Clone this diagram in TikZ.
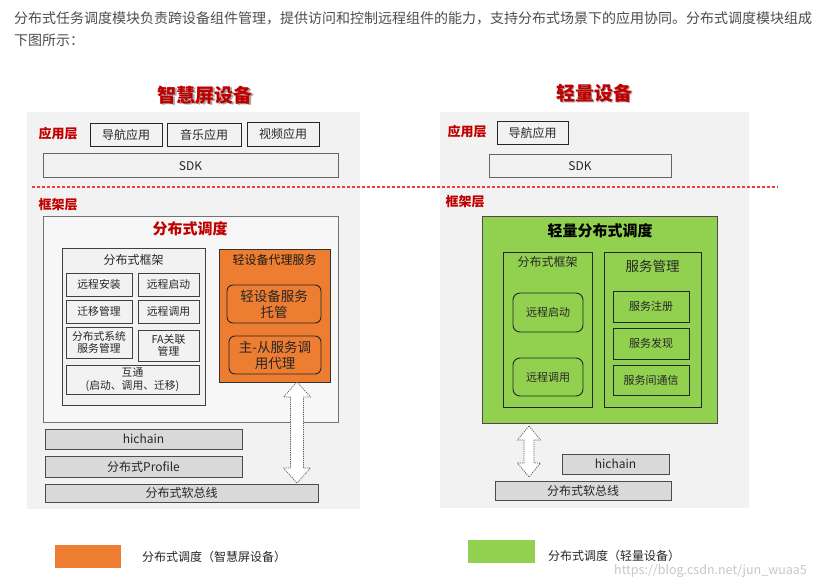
\documentclass[tikz,border=0pt]{standalone}
\usepackage{fontspec}
\setmainfont{Noto Sans CJK SC}
\definecolor{tred}{HTML}{C00000}
\definecolor{dred}{HTML}{F23C3C}
\definecolor{orng}{HTML}{ED7D31}
\definecolor{grn}{HTML}{92D050}
\definecolor{pane}{HTML}{F2F2F2}
\definecolor{bar}{HTML}{D9D9D9}
\definecolor{txt}{HTML}{4D4D4D}
\begin{document}
\begin{tikzpicture}[x=1pt,y=-1pt,
  panel/.style={fill=pane,draw=none,inner sep=0},
  layer/.style={text=tred,font=\fontsize{13}{15}\selectfont\bfseries},
  box/.style={draw=black!85,line width=0.9pt,inner sep=0,align=center,text=black!85},
  appbox/.style={box,fill=pane,font=\fontsize{12}{14}\selectfont},
  sdkbox/.style={box,fill=pane,draw=black!60,line width=1pt,font=\fontsize{12}{14}\selectfont},
  sub/.style={box,fill=pane,draw=black!75,font=\fontsize{10.8}{12.5}\selectfont},
  rbox/.style={box,rounded corners=6pt,font=\fontsize{13.5}{16}\selectfont},
  barbox/.style={box,fill=bar,draw=black!70,font=\fontsize{12}{14}\selectfont},
  dblarrow/.style={draw=black!65,dashed,dash pattern=on 1.2pt off 1pt,fill=white,line width=0.7pt}
]
\useasboundingbox[fill=white] (0,0) rectangle (820,588);

% intro text
\node[anchor=west,inner sep=0,text=txt,font=\fontsize{14}{17}\selectfont] (intro1) at (14,18) {分布式任务调度模块负责跨设备组件管理，提供访问和控制远程组件的能力，支持分布式场景下的应用协同。分布式调度模块组成};
\node[anchor=west,inner sep=0,text=txt,font=\fontsize{14}{17}\selectfont] (intro2) at (14,40) {下图所示：};

% panels
\node[panel,minimum width=333,minimum height=397] (lpanel) at (193.5,310.5) {};
\node[panel,minimum width=309,minimum height=396] (rpanel) at (594.5,310) {};

% titles with shadow
\node[text=black!35,font=\fontsize{19}{21}\selectfont\bfseries] at (206.5,96.5) {智慧屏设备};
\node[text=tred,font=\fontsize{19}{21}\selectfont\bfseries] (ltitle) at (205,95) {智慧屏设备};
\node[text=black!35,font=\fontsize{19}{21}\selectfont\bfseries] at (595.5,94.5) {轻量设备};
\node[text=tred,font=\fontsize{19}{21}\selectfont\bfseries] (rtitle) at (594,93) {轻量设备};

% layer labels
\node[layer] (lapp) at (58,134) {应用层};
\node[layer] (lfw) at (58,205) {框架层};
\node[layer] (rapp) at (467,132) {应用层};
\node[layer] (rfw) at (465,202) {框架层};

% app layer left
\node[appbox,minimum width=72,minimum height=23] (nav) at (126,134.5) {导航应用};
\node[appbox,minimum width=74,minimum height=23] (music) at (204,134.5) {音乐应用};
\node[appbox,minimum width=72,minimum height=24] (video) at (283,134) {视频应用};
\node[sdkbox,minimum width=295,minimum height=24] (lsdk) at (190.5,166) {SDK};
% app layer right
\node[appbox,minimum width=71,minimum height=23] (rnav) at (532.5,132.5) {导航应用};
\node[sdkbox,minimum width=182,minimum height=23] (rsdk) at (580,166.5) {SDK};

% dashed separator
\coordinate (dl) at (32,187);
\coordinate (dr) at (778,187);
\draw[dred,dash pattern=on 3pt off 2pt,line width=1.1pt] (dl) -- (dr);

% left scheduler
\node[box,fill=white!97!black,draw=black!55,line width=1pt,minimum width=295,minimum height=205] (lsched) at (190.5,319.5) {};
\node[text=tred,font=\fontsize{15}{17}\selectfont\bfseries] (lschedt) at (190,229) {分布式调度};
\node[box,fill=pane,draw=black!75,minimum width=143,minimum height=157] (lfwk) at (133.5,326.5) {};
\node[text=black!85,font=\fontsize{12}{14}\selectfont] (lfwkt) at (133.5,260) {分布式框架};
\node[sub,minimum width=66,minimum height=23] (az) at (99,284.5) {远程安装};
\node[sub,minimum width=61,minimum height=23] (qd) at (168.5,284.5) {远程启动};
\node[sub,minimum width=66,minimum height=23] (qy) at (99,311.5) {迁移管理};
\node[sub,minimum width=61,minimum height=23] (dy) at (168.5,311.5) {远程调用};
\node[sub,minimum width=66,minimum height=31] (xt) at (99,342.5) {分布式系统\\服务管理};
\node[sub,minimum width=61,minimum height=31] (fa) at (168.5,345.5) {FA关联\\管理};
\node[sub,minimum width=133,minimum height=29] (ht) at (132.5,379.5) {互通\\(启动、调用、迁移)};

\node[box,fill=orng,draw=black!80,minimum width=111,minimum height=133] (proxy) at (274.5,315.5) {};
\node[text=black!90,font=\fontsize{12}{14}\selectfont] (proxyt) at (274.5,260) {轻设备代理服务};
\node[rbox,fill=orng,minimum width=94,minimum height=38] (tg) at (274,304) {轻设备服务\\托管};
\node[rbox,fill=orng,minimum width=92,minimum height=38] (ms) at (275,355) {主-从服务调\\用代理};

\node[barbox,minimum width=197,minimum height=20] (lhc) at (143.5,439) {hichain};
\node[barbox,minimum width=197,minimum height=21] (prof) at (143.5,466.5) {分布式Profile};
\node[barbox,minimum width=273,minimum height=18] (lbus) at (181.5,493) {分布式软总线};

% left double arrow
\draw[dblarrow] (297,382) -- (310.5,397) -- (303.5,397) -- (303.5,468) -- (310.5,468) -- (297,483)
  -- (283.5,468) -- (290.5,468) -- (290.5,397) -- (283.5,397) -- cycle;

% right scheduler
\node[box,fill=grn,draw=black!70,line width=1pt,minimum width=235,minimum height=206] (rsched) at (599.5,320) {};
\node[text=black,font=\fontsize{15}{17}\selectfont\bfseries] (rschedt) at (600,231) {轻量分布式调度};
\node[box,fill=grn,minimum width=89,minimum height=155] (rfwk) at (547.5,329.5) {};
\node[text=black!85,font=\fontsize{12}{14}\selectfont] (rfwkt) at (547.5,262) {分布式框架};
\node[rbox,fill=grn,rounded corners=7pt,font=\fontsize{11}{13}\selectfont,minimum width=70,minimum height=39] (rqd) at (548,312.5) {远程启动};
\node[rbox,fill=grn,rounded corners=7pt,font=\fontsize{11}{13}\selectfont,minimum width=70,minimum height=38] (rdy) at (548,377) {远程调用};
\node[box,fill=grn,minimum width=97,minimum height=155] (svc) at (652.5,329.5) {};
\node[text=black!85,font=\fontsize{13.5}{16}\selectfont] (svct) at (652.5,266) {服务管理};
\node[box,fill=grn,font=\fontsize{11}{13}\selectfont,minimum width=76,minimum height=31] (reg) at (651,306.5) {服务注册};
\node[box,fill=grn,font=\fontsize{11}{13}\selectfont,minimum width=76,minimum height=31] (disc) at (651,343.5) {服务发现};
\node[box,fill=grn,font=\fontsize{11}{13}\selectfont,minimum width=76,minimum height=30] (comm) at (651,380) {服务间通信};

\node[barbox,minimum width=107,minimum height=20] (rhc) at (615.5,464) {hichain};
\node[barbox,minimum width=176,minimum height=19] (rbus) at (583,490.5) {分布式软总线};

% right double arrow
\draw[dblarrow] (529,426) -- (540.5,440) -- (534,440) -- (534,463) -- (540.5,463) -- (529,477)
  -- (517.5,463) -- (524,463) -- (524,440) -- (517.5,440) -- cycle;

% legend
\node[fill=orng,minimum width=66,minimum height=23,inner sep=0] (lego) at (88,556.5) {};
\node[anchor=west,inner sep=0,text=black!85,font=\fontsize{12}{14}\selectfont] (legot) at (142,557) {分布式调度（智慧屏设备）};
\node[fill=grn,minimum width=67,minimum height=23,inner sep=0] (legg) at (501.5,551.5) {};
\node[anchor=west,inner sep=0,text=black!85,font=\fontsize{12}{14}\selectfont] (leggt) at (548,556) {分布式调度（轻量设备）};
\node[anchor=west,inner sep=0,text=black!22,font=\fontsize{12.5}{14}\selectfont] (wm) at (614,571) {https://blog.csdn.net/jun\_wuaa5};
\end{tikzpicture}
\end{document}
